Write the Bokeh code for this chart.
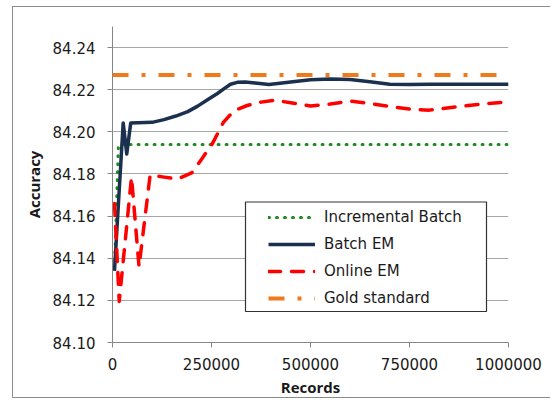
from bokeh.plotting import figure
from bokeh.models import (Range1d, FixedTicker, PrintfTickFormatter, BasicTickFormatter,
                          Legend, LegendItem, BoxAnnotation)
from bokeh.embed import file_html
from bokeh.resources import INLINE

# Accuracy vs. number of records processed
inc_records = [5000, 15000, 1000000]
inc_accuracy = [84.135, 84.194, 84.194]

batch_records = [5000, 27000, 36000, 46000, 100000, 130000, 160000, 190000, 215000, 240000,
                 265000, 282000, 298000, 315000, 335000, 360000, 395000, 450000, 500000,
                 550000, 600000, 650000, 700000, 750000, 800000, 900000, 1000000]
batch_accuracy = [84.134, 84.2042, 84.1895, 84.2042, 84.2045, 84.2058, 84.2075, 84.2096, 84.2122, 84.2152,
                  84.2182, 84.2205, 84.2226, 84.2235, 84.2237, 84.2232, 84.2225, 84.2237, 84.2247,
                  84.2251, 84.2248, 84.2238, 84.2226, 84.2225, 84.2226, 84.2226, 84.2226]

online_records = [5000, 17000, 48000, 67000, 95000, 130000, 165000, 200000, 225000, 252000,
                  280000, 307000, 340000, 375000, 410000, 450000, 500000, 550000, 600000,
                  650000, 700000, 750000, 800000, 870000, 950000, 1000000]
online_accuracy = [84.166, 84.1195, 84.1785, 84.136, 84.1795, 84.1785, 84.1776, 84.1805, 84.187,
                   84.1943, 84.2045, 84.2101, 84.2125, 84.2141, 84.2150, 84.2138, 84.2123,
                   84.2132, 84.2146, 84.2135, 84.2120, 84.2108, 84.2103, 84.2119, 84.2135, 84.2142]

gold_records = [0, 1000000]
gold_accuracy = [84.227, 84.227]

x_ticks = [0, 250000, 500000, 750000, 1000000]
y_ticks = [84.10, 84.12, 84.14, 84.16, 84.18, 84.20, 84.22, 84.24]

FONT = "DejaVu Sans"
TITLE_FONT = "Open Sans"
AXIS_GREY = "#868686"

p = figure(width=538, height=392, output_backend="svg", toolbar_location=None,
           x_range=Range1d(0, 1000000), y_range=Range1d(84.10, 84.25),
           min_border_left=99, min_border_right=43, min_border_top=19, min_border_bottom=57)
p.styles = {"margin-left": "12px", "margin-top": "6px",
            "border-left": "1px solid #8c8c8c", "border-top": "1px solid #8c8c8c",
            "border-bottom": "1px solid #8c8c8c"}
p.outline_line_color = None
p.background_fill_color = "white"
p.border_fill_color = "white"

p.xgrid.grid_line_color = None
p.ygrid.grid_line_color = "#a6a6a6"
p.ygrid.grid_line_width = 1

for ax in (p.xaxis[0], p.yaxis[0]):
    ax.axis_line_color = AXIS_GREY
    ax.major_tick_line_color = AXIS_GREY
    ax.major_tick_out = 5
    ax.major_tick_in = 0
    ax.minor_tick_line_color = None
    ax.major_label_text_font = FONT
    ax.major_label_text_font_size = "15px"
    ax.major_label_text_color = "#1a1a1a"
    ax.axis_label_text_font = TITLE_FONT
    ax.axis_label_text_font_style = "bold"
    ax.axis_label_text_font_size = "15px"
    ax.axis_label_text_color = "#1a1a1a"

p.xaxis[0].ticker = FixedTicker(ticks=x_ticks)
p.xaxis[0].formatter = BasicTickFormatter(use_scientific=False)
p.xaxis[0].axis_label = "Records"
p.xaxis[0].major_label_standoff = 10
p.xaxis[0].axis_label_standoff = 4

p.yaxis[0].ticker = FixedTicker(ticks=y_ticks)
p.yaxis[0].formatter = PrintfTickFormatter(format="%.2f")
p.yaxis[0].axis_label = "Accuracy"
p.yaxis[0].major_label_standoff = 12
p.yaxis[0].axis_label_standoff = 6

r_inc = p.line(inc_records, inc_accuracy, line_color="#1f8a1f", line_width=3,
               line_dash="1 7", line_cap="round")
r_batch = p.line(batch_records, batch_accuracy, line_color="#1b2f4e", line_width=3.5,
                 line_join="round")
r_online = p.line(online_records, online_accuracy, line_color="#ff0000", line_width=3.5,
                  line_dash="12 11", line_cap="round", line_join="round")
r_gold = p.line(gold_records, gold_accuracy, line_color="#ee7a1c", line_width=4,
                line_dash="16 13 4 13")

# Legend frame
frame_box = BoxAnnotation(left=133, right=374, bottom=31, top=140.5,
                          left_units="screen", right_units="screen",
                          bottom_units="screen", top_units="screen",
                          fill_color="white", fill_alpha=1.0,
                          line_color="#333333", line_width=1.2, line_alpha=1.0)
p.add_layout(frame_box)

legend = Legend(items=[
    LegendItem(label="Incremental Batch", renderers=[r_inc]),
    LegendItem(label="Batch EM", renderers=[r_batch]),
    LegendItem(label="Online EM", renderers=[r_online]),
    LegendItem(label="Gold standard", renderers=[r_gold]),
], location=(156, 34), padding=0, margin=0, spacing=7,
   glyph_width=47, glyph_height=20, label_height=20, label_standoff=9,
   label_text_font=FONT, label_text_font_size="15px", label_text_color="#1a1a1a",
   border_line_color=None, background_fill_color=None, background_fill_alpha=0)
p.add_layout(legend, "center")

open("out.html", "w").write(file_html(p, INLINE))
